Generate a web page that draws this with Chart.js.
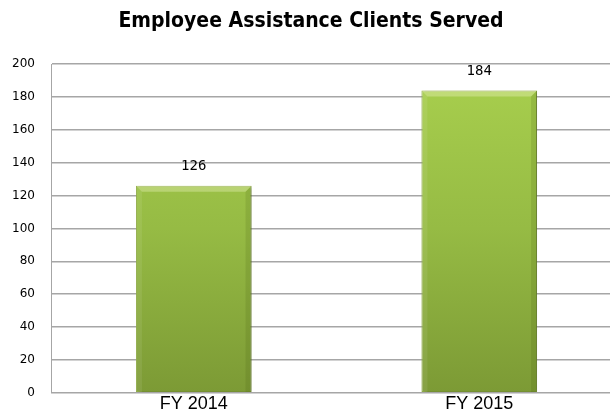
<!DOCTYPE html>
<html>
<head>
<meta charset="utf-8">
<script src="https://cdn.jsdelivr.net/npm/chart.js@4"></script>
<style>
  html, body { margin: 0; padding: 0; background: #fff; overflow: hidden; }
  #wrap { position: relative; width: 622px; height: 416px; }
</style>
</head>
<body>
<div id="wrap"><canvas id="grafico"></canvas></div>
<script>
// dados
const CATEGORIAS = ['FY 2014', 'FY 2015'];
const CLIENTES = [126, 184];
const TITULO = 'Employee Assistance Clients Served';
const Y_MAX = 200;
const Y_PASSO = 20;

const GRADE = '#a6a6a6';

function gradienteBarra(ctx) {
  const chart = ctx.chart;
  const area = chart.chartArea;
  if (!area) return '#98bf45';
  const g = chart.ctx.createLinearGradient(0, area.top, 0, area.bottom);
  g.addColorStop(0, '#a9d04e');
  g.addColorStop(0.5, '#96bb44');
  g.addColorStop(1, '#7c9a35');
  return g;
}

// sombra leve atrás das barras + chanfro
const sombraPlugin = {
  id: 'sombra',
  beforeDatasetsDraw: function (chart) {
    const c = chart.ctx;
    c.save();
    c.shadowColor = 'rgba(0,0,0,0.28)';
    c.shadowBlur = 3;
    c.shadowOffsetX = 2;
    c.shadowOffsetY = 1;
  },
  afterDatasetsDraw: function (chart) {
    chart.ctx.restore();
    const c = chart.ctx;
    const meta = chart.getDatasetMeta(0);
    c.save();
    meta.data.forEach(function (bar) {
      const l = bar.x - bar.width / 2, r = bar.x + bar.width / 2;
      const t = bar.y, b = bar.base;
      const d = 6;
      c.fillStyle = 'rgba(255,255,220,0.3)';
      c.beginPath();
      c.moveTo(l, t); c.lineTo(r, t); c.lineTo(r - d, t + d); c.lineTo(l + d, t + d); c.closePath();
      c.fill();
      c.fillStyle = 'rgba(255,255,255,0.08)';
      c.beginPath();
      c.moveTo(l, t); c.lineTo(l + d, t + d); c.lineTo(l + d, b); c.lineTo(l, b); c.closePath();
      c.fill();
      c.fillStyle = 'rgba(60,80,10,0.14)';
      c.beginPath();
      c.moveTo(r, t); c.lineTo(r - d, t + d); c.lineTo(r - d, b); c.lineTo(r, b); c.closePath();
      c.fill();
    });
    c.restore();
  }
};

// rótulo de valor acima de cada barra
const rotulosPlugin = {
  id: 'rotulosValor',
  afterDatasetsDraw: function (chart) {
    const c = chart.ctx;
    const meta = chart.getDatasetMeta(0);
    const dados = chart.data.datasets[0].data;
    c.save();
    c.font = '14px "DejaVu Sans Mono", monospace';
    c.fillStyle = '#000';
    c.textAlign = 'center';
    c.textBaseline = 'middle';
    meta.data.forEach(function (bar, i) {
      c.fillText(String(dados[i]), bar.x, bar.y - 19);
    });
    c.restore();
  }
};

new Chart(document.getElementById('grafico'), {
  type: 'bar',
  data: {
    labels: CATEGORIAS,
    datasets: [{
      label: 'Clientes',
      data: CLIENTES,
      backgroundColor: gradienteBarra,
      borderColor: '#87a63a',
      borderWidth: 1,
      borderSkipped: false,
      barPercentage: 0.405,
      categoryPercentage: 1
    }]
  },
  options: {
    responsive: true,
    maintainAspectRatio: false,
    animation: false,
    layout: { padding: { top: 9, left: 0, right: 0, bottom: 0 } },
    plugins: {
      legend: { display: false },
      tooltip: { enabled: false },
      title: {
        display: true,
        text: TITULO,
        color: '#000',
        font: { family: '"DejaVu Sans Condensed", "DejaVu Sans", sans-serif', size: 21, weight: 'bold' },
        padding: { top: 0, bottom: 30 }
      }
    },
    scales: {
      x: {
        grid: { display: false, drawTicks: false },
        border: { display: true, color: GRADE, width: 1 },
        ticks: { color: '#000', padding: 0, font: { family: '"Liberation Sans", Arial, sans-serif', size: 18 } }
      },
      y: {
        min: 0, max: Y_MAX,
        afterFit: function (scale) { scale.width = 51; },
        grid: { color: GRADE, lineWidth: 1.5, drawTicks: false },
        border: { display: true, color: GRADE, width: 1 },
        ticks: {
          stepSize: Y_PASSO,
          color: '#000',
          padding: 16,
          font: { family: '"DejaVu Sans", sans-serif', size: 12 }
        }
      }
    }
  },
  plugins: [sombraPlugin, rotulosPlugin]
});
</script>
</body>
</html>
